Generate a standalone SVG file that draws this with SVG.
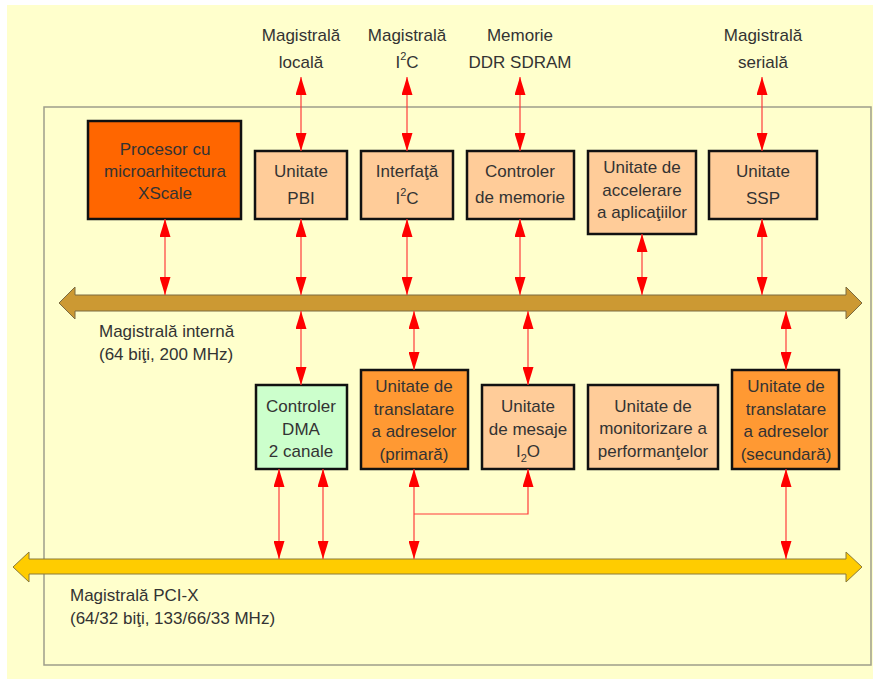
<svg xmlns="http://www.w3.org/2000/svg" width="873" height="679" viewBox="0 0 873 679">
<style>
text{font-family:"Liberation Sans",Arial,sans-serif;font-size:17px;fill:#333;text-anchor:middle}
.lbl{text-anchor:start}
.box{stroke:#111;stroke-width:2.5}
.peach{fill:#FFCC99}
.dark{fill:#FF6600}
.orange{fill:#FF9933}
.green{fill:#CCFFCC}
.con{stroke:#FF3B3B;stroke-width:1.2;fill:none}
.sup{font-size:11px}
</style>
<defs>
<marker id="ah" markerUnits="userSpaceOnUse" markerWidth="18" markerHeight="11" refX="18" refY="5.5" orient="auto-start-reverse" viewBox="0 0 18 11">
<path d="M0,0 L18,5.5 L0,11 z" fill="#FF0000"/>
</marker>
</defs>
<rect x="0" y="0" width="873" height="679" fill="#fff"/>
<rect x="7" y="5" width="866" height="674" fill="#FFFFCC"/>
<rect x="44" y="107" width="827" height="558" fill="none" stroke="#9E9E8A" stroke-width="1.5"/>

<g id="bus-internal">
<path d="M59,303 L75,287 L75,295 L846,295 L846,287 L862,303 L846,319 L846,311 L75,311 L75,319 z" fill="#CC9933" stroke="#7a6a40" stroke-width="1"/>
<text class="lbl" x="99" y="337">Magistrală internă</text>
<text class="lbl" x="99" y="360">(64 biţi, 200 MHz)</text>
</g>
<g id="bus-pci">
<path d="M13,567 L29,552 L29,559 L846,559 L846,552 L862,567 L846,582 L846,574 L29,574 L29,582 z" fill="#FFCC00" stroke="#8a7a3a" stroke-width="1"/>
<text class="lbl" x="70" y="601">Magistrală PCI-X</text>
<text class="lbl" x="70" y="624">(64/32 biţi, 133/66/33 MHz)</text>
</g>

<g id="ext-local"><text x="301" y="41">Magistrală</text><text x="301" y="68">locală</text></g>
<g id="ext-i2c"><text x="407" y="41">Magistrală</text><text x="407" y="68">I<tspan class="sup" dy="-8">2</tspan><tspan dy="8">C</tspan></text></g>
<g id="ext-ddr"><text x="520" y="41">Memorie</text><text x="520" y="68">DDR SDRAM</text></g>
<g id="ext-serial"><text x="763" y="41">Magistrală</text><text x="763" y="68">serială</text></g>

<g id="procesor"><rect class="box dark" x="88" y="121" width="153" height="98"/>
<text x="165" y="155">Procesor cu</text><text x="165" y="177">microarhitectura</text><text x="165" y="199">XScale</text></g>
<g id="pbi"><rect class="box peach" x="255" y="151" width="92" height="68"/>
<text x="301" y="177">Unitate</text><text x="301" y="204">PBI</text></g>
<g id="i2c"><rect class="box peach" x="361" y="151" width="92" height="68"/>
<text x="407" y="177">Interfaţă</text><text x="407" y="204">I<tspan class="sup" dy="-8">2</tspan><tspan dy="8">C</tspan></text></g>
<g id="memctl"><rect class="box peach" x="467" y="151" width="107" height="68"/>
<text x="520" y="177">Controler</text><text x="520" y="203">de memorie</text></g>
<g id="accel"><rect class="box peach" x="588" y="151" width="108" height="83"/>
<text x="642" y="173">Unitate de</text><text x="642" y="196">accelerare</text><text x="642" y="218">a aplicaţiilor</text></g>
<g id="ssp"><rect class="box peach" x="709" y="151" width="108" height="68"/>
<text x="763" y="177">Unitate</text><text x="763" y="204">SSP</text></g>

<g id="dma"><rect class="box green" x="256" y="385" width="91" height="84"/>
<text x="301" y="412">Controler</text><text x="301" y="435">DMA</text><text x="301" y="457">2 canale</text></g>
<g id="atu-primary"><rect class="box orange" x="361" y="370" width="107" height="99"/>
<text x="414" y="392">Unitate de</text><text x="414" y="415">translatare</text><text x="414" y="437">a adreselor</text><text x="414" y="460">(primară)</text></g>
<g id="i2o"><rect class="box peach" x="482" y="385" width="92" height="84"/>
<text x="528" y="412">Unitate</text><text x="528" y="435">de mesaje</text><text x="528" y="457">I<tspan class="sup" dy="5">2</tspan><tspan dy="-5">O</tspan></text></g>
<g id="perf"><rect class="box peach" x="588" y="385" width="130" height="84"/>
<text x="653" y="412">Unitate de</text><text x="653" y="434">monitorizare a</text><text x="653" y="457">performanţelor</text></g>
<g id="atu-secondary"><rect class="box orange" x="732" y="370" width="107" height="99"/>
<text x="786" y="392">Unitate de</text><text x="786" y="415">translatare</text><text x="786" y="437">a adreselor</text><text x="786" y="460">(secundară)</text></g>

<g id="connectors" class="con" marker-start="url(#ah)" marker-end="url(#ah)">
<line x1="301" y1="77" x2="301" y2="151"/>
<line x1="407" y1="77" x2="407" y2="151"/>
<line x1="520" y1="77" x2="520" y2="151"/>
<line x1="762" y1="77" x2="762" y2="151"/>
<line x1="165" y1="219" x2="165" y2="295"/>
<line x1="301" y1="219" x2="301" y2="295"/>
<line x1="407" y1="219" x2="407" y2="295"/>
<line x1="520" y1="219" x2="520" y2="295"/>
<line x1="642" y1="234" x2="642" y2="295"/>
<line x1="762" y1="219" x2="762" y2="295"/>
<line x1="301" y1="311" x2="301" y2="385"/>
<line x1="414" y1="311" x2="414" y2="370"/>
<line x1="528" y1="311" x2="528" y2="385"/>
<line x1="786" y1="311" x2="786" y2="370"/>
<line x1="279" y1="469" x2="279" y2="559"/>
<line x1="323" y1="469" x2="323" y2="559"/>
<line x1="414" y1="469" x2="414" y2="559"/>
<line x1="786" y1="469" x2="786" y2="559"/>
<polyline points="414,514 528,514 528,469" marker-start="none"/>
</g>
</svg>
